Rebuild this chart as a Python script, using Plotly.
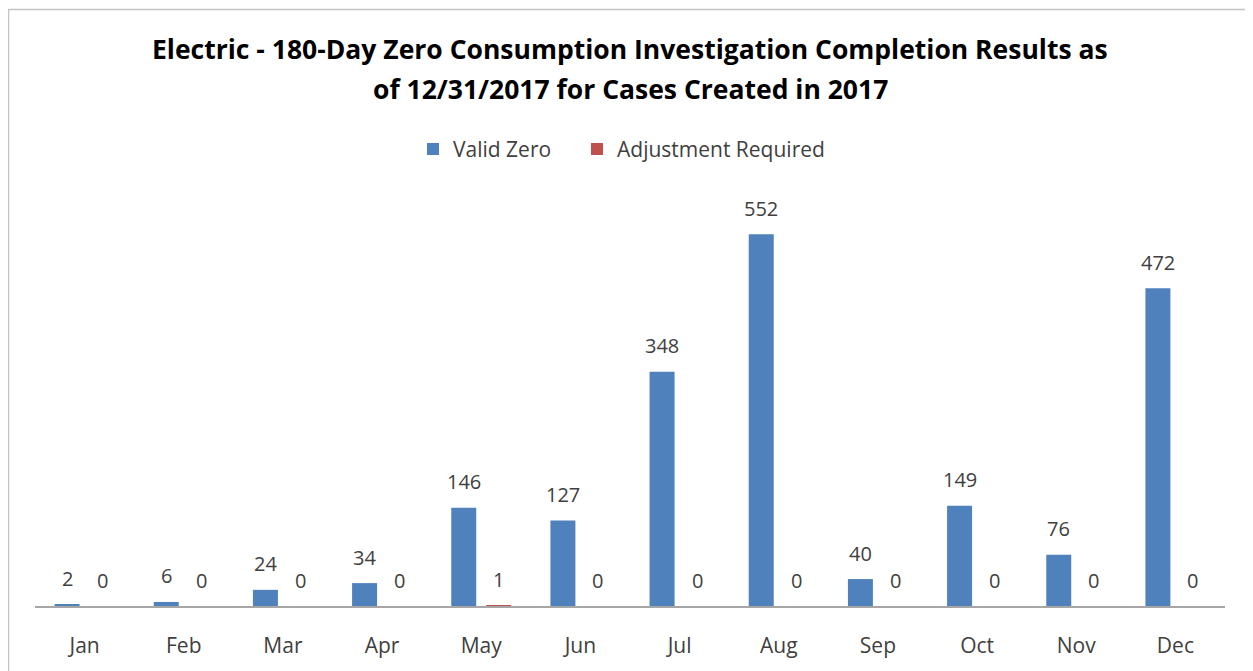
import plotly.graph_objects as go

months = ["Jan", "Feb", "Mar", "Apr", "May", "Jun", "Jul", "Aug", "Sep", "Oct", "Nov", "Dec"]
valid_zero = [2, 6, 24, 34, 146, 127, 348, 552, 40, 149, 76, 472]
adjustment_required = [0, 0, 0, 0, 1, 0, 0, 0, 0, 0, 0, 0]

# figure is placed at (8,8) in the page by the default body margin
W, H = 1245, 663
ML, MR, MT, MB = 27, 28, 194, 63
PW = W - ML - MR
PH = H - MT - MB

FONT = "Open Sans"
label_color = "#404040"
BLUE = "#4F81BD"
RED = "#C0504D"

fig = go.Figure()
fig.add_trace(go.Bar(
    x=months, y=valid_zero, name="Valid Zero",
    marker=dict(color=BLUE, line=dict(width=0)), legend="legend",
))
fig.add_trace(go.Bar(
    x=months, y=adjustment_required, name="Adjustment Required",
    marker=dict(color=RED, line=dict(width=0)), legend="legend2",
))

# data labels
for series, shift in ((valid_zero, -17.5), (adjustment_required, 17.5)):
    for m, v in zip(months, series):
        fig.add_annotation(
            x=m, y=v, xref="x", yref="y", text=str(v), showarrow=False,
            xshift=shift, yshift=26, yanchor="middle", xanchor="center",
            font=dict(family=FONT, size=20, color=label_color),
        )

def px_x(p):
    return (p - ML) / PW

def px_y(p):
    return (H - MB - p) / PH

# title lines
fig.add_annotation(
    xref="paper", yref="paper", x=0.5, y=px_y(40), xanchor="center", yanchor="middle",
    text="<b>Electric - 180-Day Zero Consumption Investigation Completion Results as</b>",
    showarrow=False, font=dict(family=FONT, size=26.5, color="#000000"),
)
fig.add_annotation(
    xref="paper", yref="paper", x=0.5, y=px_y(80), xanchor="center", yanchor="middle",
    text="<b>of 12/31/2017 for Cases Created in 2017</b>",
    showarrow=False, font=dict(family=FONT, size=26.5, color="#000000"),
)

# chart frame
fig.add_shape(type="rect", xref="paper", yref="paper",
              x0=px_x(0.5), x1=px_x(1243), y0=px_y(675), y1=px_y(0.5),
              line=dict(color="#C4C4C4", width=1.5), fillcolor="rgba(0,0,0,0)", layer="below")

legend_style = dict(
    orientation="h", yanchor="middle", y=px_y(141), xanchor="left",
    font=dict(family=FONT, size=21, color="#404040"),
    itemwidth=30, bgcolor="rgba(0,0,0,0)",
)

fig.update_layout(
    width=W, height=H,
    margin=dict(l=ML, r=MR, t=MT, b=MB),
    paper_bgcolor="white", plot_bgcolor="white",
    barmode="group", bargap=0.294, bargroupgap=0.286,
    legend=dict(x=px_x(405), **legend_style),
    legend2=dict(x=px_x(569), **legend_style),
    xaxis=dict(
        showline=True, linecolor="#A6A6A6", linewidth=1.5,
        ticks="outside", ticklen=20, tickcolor="rgba(0,0,0,0)", showgrid=False,
        tickfont=dict(family=FONT, size=21, color="#404040"),
    ),
    yaxis=dict(range=[0, 600], visible=False, showgrid=False, zeroline=False),
    showlegend=True,
)

fig.write_html("out.html")
